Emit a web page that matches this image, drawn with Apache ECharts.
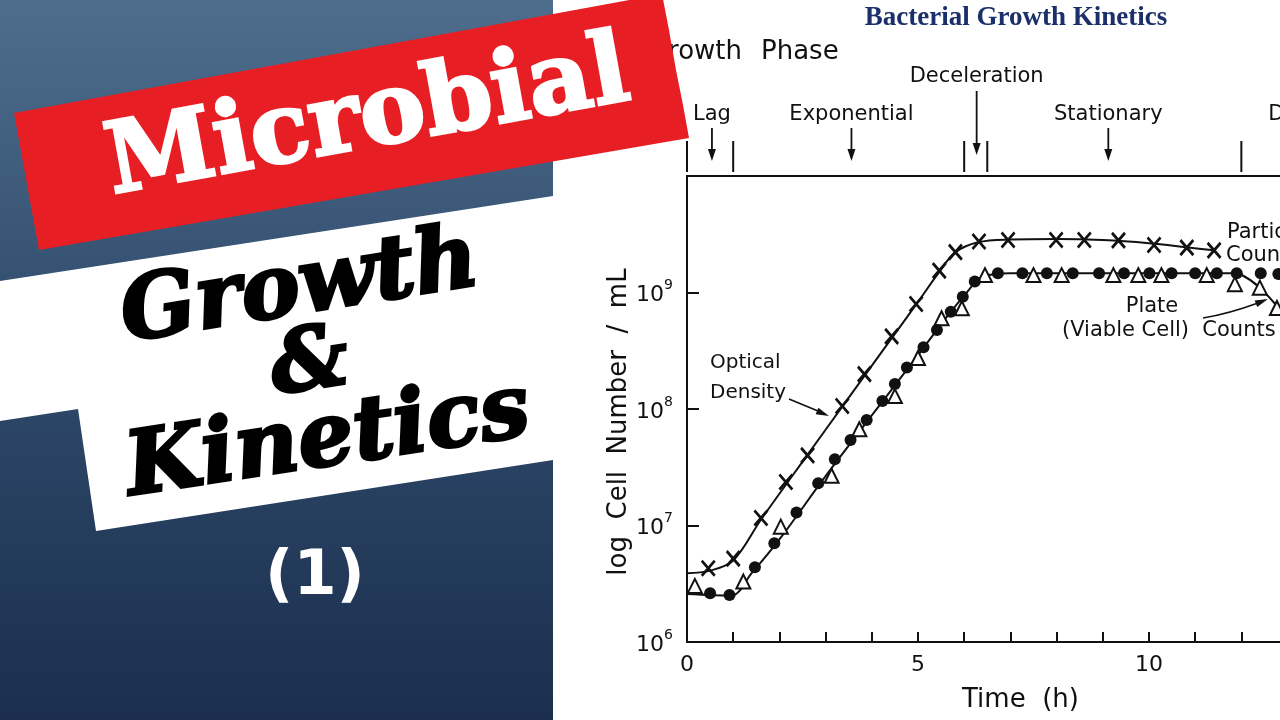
<!DOCTYPE html>
<html>
<head>
<meta charset="utf-8">
<title>Microbial Growth & Kinetics (1)</title>
<script src="https://cdn.jsdelivr.net/npm/echarts@6.0.0/dist/echarts.min.js"></script>
<style>
  html, body { margin: 0; padding: 0; background: #fff; }
  #chart { width: 1280px; height: 720px; }
</style>
</head>
<body>
<div id="chart"></div>
<script>
// crosses: optical density readings
const odTime = [0.46, 1.0, 1.6, 2.14, 2.61, 3.36, 3.84, 4.43, 4.96, 5.46, 5.81, 6.32, 6.95, 7.99, 8.6, 9.34, 10.11, 10.82, 11.41];
const odCount = [4.3e6, 5.2e6, 1.16e7, 2.36e7, 4.0e7, 1.06e8, 1.99e8, 4.2e8, 7.96e8, 1.54e9, 2.22e9, 2.74e9, 2.82e9, 2.82e9, 2.82e9, 2.8e9, 2.56e9, 2.43e9, 2.3e9];
// filled dots
const dotTime = [0.5, 0.92, 1.47, 1.89, 2.37, 2.84, 3.2, 3.54, 3.89, 4.23, 4.5, 4.76, 5.12, 5.41, 5.71, 5.97, 6.23, 6.73, 7.26, 7.79, 8.35, 8.92, 9.46, 10.01, 10.49, 11.0, 11.47, 11.9, 12.42, 12.8];
const dotCount = [2.62e6, 2.53e6, 4.38e6, 7.03e6, 1.29e7, 2.3e7, 3.7e7, 5.42e7, 8.05e7, 1.17e8, 1.64e8, 2.27e8, 3.39e8, 4.77e8, 6.84e8, 9.2e8, 1.24e9, 1.46e9, 1.46e9, 1.46e9, 1.46e9, 1.46e9, 1.46e9, 1.46e9, 1.46e9, 1.46e9, 1.46e9, 1.46e9, 1.46e9, 1.44e9];
// open triangles: plate (viable cell) counts
const triTime = [0.17, 1.22, 2.03, 3.13, 3.73, 4.5, 5.0, 5.51, 5.95, 6.45, 7.5, 8.11, 9.23, 9.77, 10.27, 11.25, 11.86, 12.4, 12.77];
const triCount = [3.03e6, 3.3e6, 9.77e6, 2.67e7, 6.7e7, 1.29e8, 2.74e8, 6.01e8, 7.31e8, 1.41e9, 1.41e9, 1.41e9, 1.41e9, 1.41e9, 1.41e9, 1.41e9, 1.18e9, 1.1e9, 7.36e8];
// hand drawn curves through the points
const odFitTime = [0, 0.5, 1.0, 1.6, 2.6, 3.4, 4.4, 5.0, 5.45, 5.8, 6.3, 7.0, 8.0, 9.0, 10.0, 10.8, 11.4];
const odFitCount = [3.9e6, 4.1e6, 5.0e6, 1.12e7, 4.0e7, 1.1e8, 3.9e8, 8.3e8, 1.48e9, 2.2e9, 2.7e9, 2.85e9, 2.88e9, 2.82e9, 2.65e9, 2.45e9, 2.3e9];
const vcFitTime = [0, 0.95, 1.4, 2.0, 3.0, 4.0, 5.0, 5.6, 6.0, 6.4, 7.0, 11.8, 12.0, 12.4, 12.88];
const vcFitCount = [2.58e6, 2.5e6, 3.9e6, 7.6e6, 2.65e7, 8.8e7, 2.9e8, 6.0e8, 9.4e8, 1.36e9, 1.46e9, 1.46e9, 1.42e9, 1.1e9, 6.8e8];
// growth phases (hours)
const phaseEdges = [0, 1, 6, 6.5, 12];
const phaseNames = ['Lag', 'Exponential', 'Deceleration', 'Stationary', 'Death'];
const phaseMid = [0.54, 3.56, 6.27, 9.12, 13.27];
const xLabels = [0, 5, 10];

const INK = '#111';
const FIG_FONT = '"DejaVu Sans", sans-serif';

const pairs = (xs, ys) => xs.map((x, i) => [x, ys[i]]);

function arrowHead(x, y, ang, len, half) {
  const bx = x - Math.cos(ang) * len, by = y - Math.sin(ang) * len;
  const nx = -Math.sin(ang) * half, ny = Math.cos(ang) * half;
  return [[x, y], [bx + nx, by + ny], [bx - nx, by - ny]];
}

function figText(text, x, y, size, align) {
  return {
    type: 'text', x: x, y: y,
    style: { text: text, fill: INK, font: size + 'px ' + FIG_FONT, align: align || 'left', verticalAlign: 'middle' }
  };
}

const myChart = echarts.init(document.getElementById('chart'));

const option = {
  backgroundColor: '#fff',
  animation: false,
  grid: {
    left: 687, top: 176, right: -2, bottom: 78,
    show: true, borderColor: INK, borderWidth: 2,
    outerBoundsMode: 'none'
  },
  xAxis: {
    type: 'value', min: 0, max: 12.88, interval: 1,
    name: 'Time  (h)', nameLocation: 'middle', nameGap: 45,
    nameTextStyle: { color: INK, fontSize: 26, fontFamily: 'DejaVu Sans', padding: [0, 0, 0, 72] },
    axisLine: { lineStyle: { color: INK, width: 2 } },
    axisTick: { inside: true, length: 10, lineStyle: { color: INK, width: 2 } },
    axisLabel: {
      color: INK, fontSize: 22, fontFamily: 'DejaVu Sans', margin: 12,
      showMaxLabel: false,
      formatter: v => xLabels.indexOf(v) >= 0 ? String(v) : ''
    },
    splitLine: { show: false }
  },
  yAxis: {
    type: 'log', logBase: 10, min: 1e6, max: 1e10,
    name: 'log  Cell  Number  /  mL', nameLocation: 'middle', nameGap: 52, nameRotate: 90,
    nameTextStyle: { color: INK, fontSize: 26, fontFamily: 'DejaVu Sans', padding: [0, 26, 0, 0] },
    axisLine: { lineStyle: { color: INK, width: 2 } },
    axisTick: { inside: true, length: 12, lineStyle: { color: INK, width: 2 } },
    axisLabel: {
      margin: 14,
      formatter: v => {
        const e = Math.round(Math.log10(v));
        return e >= 10 ? '' : '{b|10}{e|' + e + '}';
      },
      rich: {
        b: { fontSize: 22, fontFamily: 'DejaVu Sans', color: INK, lineHeight: 28, verticalAlign: 'bottom' },
        e: { fontSize: 14, fontFamily: 'DejaVu Sans', color: INK, lineHeight: 14, verticalAlign: 'top' }
      }
    },
    splitLine: { show: false }
  },
  series: [
    {
      name: 'Optical Density curve', type: 'line', data: pairs(odFitTime, odFitCount),
      showSymbol: false, smooth: 0.35, lineStyle: { color: INK, width: 2 }, z: 2, silent: true
    },
    {
      name: 'Plate curve', type: 'line', data: pairs(vcFitTime, vcFitCount),
      showSymbol: false, smooth: 0.35, lineStyle: { color: INK, width: 2 }, z: 2, silent: true
    },
    {
      name: 'Optical Density', type: 'scatter', data: pairs(odTime, odCount),
      symbol: 'path://M0,0L12,14M12,0L0,14', symbolSize: [13, 15],
      itemStyle: { color: 'none', borderColor: INK, borderWidth: 2.8, opacity: 1 }, z: 4
    },
    {
      name: 'Plate (Viable Cell) Counts', type: 'scatter', data: pairs(triTime, triCount),
      symbol: 'triangle', symbolSize: 14,
      itemStyle: { color: '#fff', borderColor: INK, borderWidth: 2, opacity: 1 }, z: 4
    },
    {
      name: 'Particle Counts', type: 'scatter', data: pairs(dotTime, dotCount),
      symbol: 'circle', symbolSize: 12, itemStyle: { color: INK, opacity: 1 }, z: 5
    },
    {
      // phase boundary marks above the frame
      type: 'custom', data: phaseEdges.map(t => [t, 1e6]), silent: true, z: 6,
      renderItem: (params, api) => {
        const x = api.coord([api.value(0), 1e6])[0];
        return { type: 'line', shape: { x1: x, y1: 141, x2: x, y2: 172 }, style: { stroke: INK, lineWidth: 2 } };
      }
    },
    {
      // phase names with arrows
      type: 'custom', data: phaseMid.map(t => [t, 1e6]), silent: true, z: 6,
      renderItem: (params, api) => {
        const x = api.coord([api.value(0), 1e6])[0];
        const name = phaseNames[params.dataIndex];
        const raised = name === 'Deceleration';
        const labelY = raised ? 77 : 115;
        const top = raised ? 91 : 128;
        const tip = raised ? 155 : 161;
        return {
          type: 'group', children: [
            { type: 'text', style: { text: name, x: x, y: labelY, align: 'center', verticalAlign: 'middle', font: '21px ' + FIG_FONT, fill: INK } },
            { type: 'line', shape: { x1: x, y1: top, x2: x, y2: tip - 8 }, style: { stroke: INK, lineWidth: 1.8 } },
            { type: 'polygon', shape: { points: arrowHead(x, tip, Math.PI / 2, 12, 4) }, style: { fill: INK } }
          ]
        };
      }
    }
  ],
  graphic: [
    // figure annotations
    { type: 'text', x: 1016, y: 18, style: { text: 'Bacterial Growth Kinetics', fill: '#1b2f6b', font: 'bold 27px "Liberation Serif", serif', align: 'center', verticalAlign: 'middle' } },
    figText('Growth', 742, 52, 26, 'right'),
    figText('Phase', 761, 52, 26, 'left'),
    figText('Optical', 710, 363, 20),
    figText('Density', 710, 393, 20),
    { type: 'line', shape: { x1: 789, y1: 399, x2: 818, y2: 411 }, style: { stroke: INK, lineWidth: 1.6 } },
    { type: 'polygon', shape: { points: arrowHead(829, 416, Math.atan2(17, 40), 13, 3.5) }, style: { fill: INK } },
    figText('Particle', 1227, 233, 21),
    figText('Counts', 1226, 256, 21),
    figText('Plate', 1152, 307, 21, 'center'),
    figText('(Viable Cell)  Counts', 1062, 331, 21),
    { type: 'bezierCurve', shape: { x1: 1203, y1: 318, cpx1: 1228, cpy1: 314, x2: 1258, y2: 303 }, style: { stroke: INK, lineWidth: 1.6, fill: 'none' } },
    { type: 'polygon', shape: { points: arrowHead(1268, 299, Math.atan2(-4, 10), 13, 3.5) }, style: { fill: INK } },

    // thumbnail panel on the left
    {
      type: 'rect', z: 50, shape: { x: 0, y: 0, width: 553, height: 720 },
      style: { fill: { type: 'linear', x: 0, y: 0, x2: 0, y2: 1, colorStops: [{ offset: 0, color: '#4e6d8c' }, { offset: 0.5, color: '#2f4a6b' }, { offset: 1, color: '#1b2e4d' }] } }
    },
    {
      type: 'polygon', z: 51,
      shape: { points: [[0, 281], [553, 196], [553, 460], [96, 531], [78, 409], [0, 421]] },
      style: { fill: '#fff' }
    },
    {
      type: 'polygon', z: 52,
      shape: { points: [[14, 113], [662, -6], [669, 30], [676, 70], [683, 105], [689, 138], [39, 250]] },
      style: { fill: '#e81e25' }
    },
    { type: 'text', z: 53, x: 368, y: 121, rotation: 0.18, style: { text: 'Microbial', fill: '#fff', stroke: '#fff', lineWidth: 3, font: 'bold 98px "DejaVu Serif", serif', align: 'center', verticalAlign: 'middle' } },
    { type: 'text', z: 53, x: 300, y: 290, rotation: 0.16, style: { text: 'Growth', fill: '#000', stroke: '#000', lineWidth: 3, font: 'italic bold 88px "DejaVu Serif", serif', align: 'center', verticalAlign: 'middle' } },
    { type: 'text', z: 53, x: 310, y: 366, rotation: 0.15, style: { text: '&', fill: '#000', stroke: '#000', lineWidth: 3, font: 'italic bold 86px "DejaVu Serif", serif', align: 'center', verticalAlign: 'middle' } },
    { type: 'text', z: 53, x: 328, y: 442, rotation: 0.15, style: { text: 'Kinetics', fill: '#000', stroke: '#000', lineWidth: 3, font: 'italic bold 88px "DejaVu Serif", serif', align: 'center', verticalAlign: 'middle' } },
    { type: 'text', z: 53, x: 315, y: 578, style: { text: '(1)', fill: '#fff', font: 'bold 62px "DejaVu Sans", sans-serif', align: 'center', verticalAlign: 'middle' } }
  ]
};

myChart.setOption(option);
</script>
</body>
</html>
